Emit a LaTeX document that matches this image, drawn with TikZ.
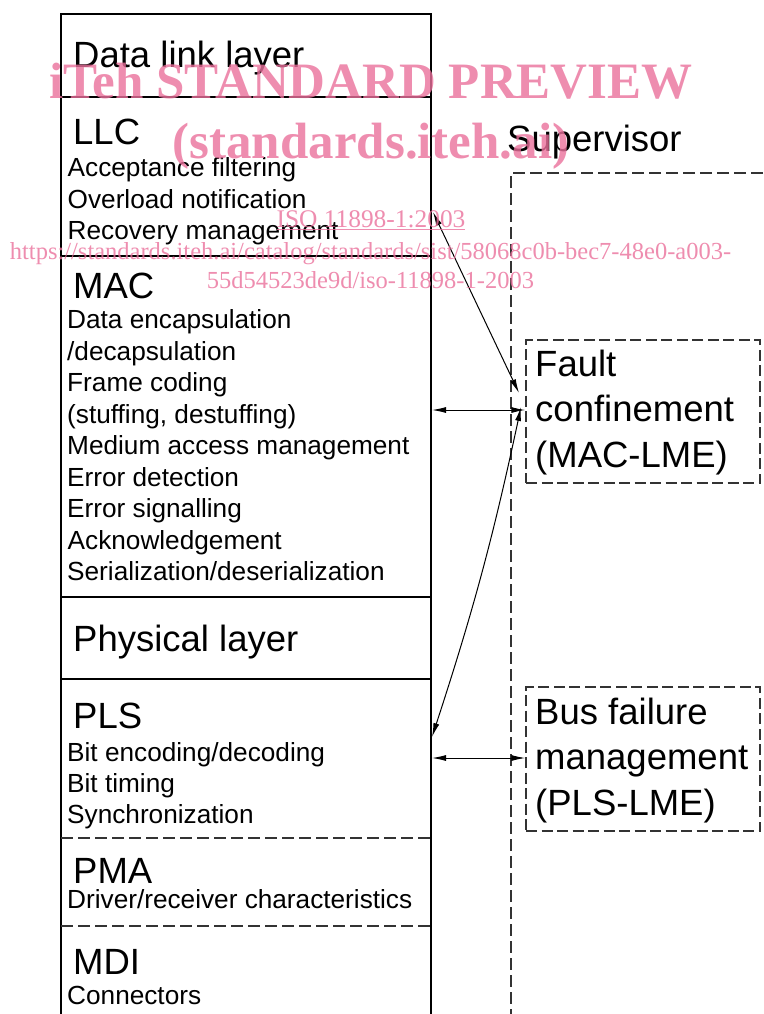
\documentclass[tikz,border=0pt]{standalone}
\usepackage{fontspec}
\setmainfont{Liberation Sans}
\newfontfamily\wmfont{Liberation Serif}
\usetikzlibrary{arrows.meta}
\definecolor{wmpink}{RGB}{234,112,155}
\begin{document}
\begin{tikzpicture}[x=1pt,y=-1pt,
  big/.style={anchor=base west,inner sep=0pt,font=\fontsize{36.5}{40}\selectfont},
  small/.style={anchor=base west,inner sep=0pt,font=\fontsize{26.2}{30}\selectfont},
  solidline/.style={line width=2pt},
  dashline/.style={line width=1.3pt,draw=black!80,dash pattern=on 12pt off 5pt},
  lmebox/.style={draw=black!80,line width=1.3pt,dash pattern=on 11pt off 4.5pt,minimum width=234pt,inner sep=0pt},
  conn/.style={line width=1pt,{Latex[length=14pt,width=6pt]}-{Latex[length=14pt,width=6pt]}},
  wm/.style={text=wmpink,text opacity=0.8,inner sep=0pt,anchor=base}
]
\useasboundingbox (0,0) rectangle (763,1014);
% main stack
\draw[solidline] (61,1014) -- (61,14) -- (431,14) -- (431,1014);
\draw[solidline] (61,97) -- (431,97);
\draw[line width=1.3pt] (61,256) -- (431,256);
\draw[solidline] (61,597) -- (431,597);
\draw[solidline] (61,679) -- (431,679);
\draw[dashline] (61,838) -- (431,838);
\draw[dashline] (61,926) -- (431,926);
% supervisor
\draw[dashline] (763,173) -- (511,173) -- (511,1014);
\node[big] (sup) at (507,151) {Supervisor};
% texts of stack
\node[big] (dll) at (73,68) {Data link layer};
\node[big] (llc) at (73,145) {LLC};
\node[small] (l1) at (67.5,176) {Acceptance filtering};
\node[small] (l2) at (67.5,208) {Overload notification};
\node[small] (l3) at (67.5,239) {Recovery management};
\node[big] (mac) at (73,298) {MAC};
\node[small] (m1) at (67,328) {Data encapsulation};
\node[small] (m2) at (67,360) {/decapsulation};
\node[small] (m3) at (67,391) {Frame coding};
\node[small] (m4) at (67,423) {(stuffing, destuffing)};
\node[small] (m5) at (67,454) {Medium access management};
\node[small] (m6) at (67,486) {Error detection};
\node[small] (m7) at (67,517) {Error signalling};
\node[small] (m8) at (67.5,549) {Acknowledgement};
\node[small] (m9) at (67,580) {Serialization/deserialization};
\node[big] (phy) at (73,651) {Physical layer};
\node[big] (pls) at (73,728) {PLS};
\node[small] (p1) at (67,761) {Bit encoding/decoding};
\node[small] (p2) at (67,792) {Bit timing};
\node[small] (p3) at (67,823) {Synchronization};
\node[big] (pma) at (73,883) {PMA};
\node[small] (a1) at (67,908) {Driver/receiver characteristics};
\node[big] (mdi) at (73,974) {MDI};
\node[small] (d1) at (67,1004) {Connectors};
% LME boxes
\node[lmebox,minimum height=143pt] (fault) at (643,411.5) {};
\node[big] (f1) at (535,376) {Fault};
\node[big] (f2) at (535,421) {confinement};
\node[big] (f3) at (535,467) {(MAC-LME)};
\node[lmebox,minimum height=144pt] (bus) at (643,759) {};
\node[big] (b1) at (535,724) {Bus failure};
\node[big] (b2) at (535,769) {management};
\node[big] (b3) at (535,815) {(PLS-LME)};
% connectors
\coordinate (llcR) at (433,212);
\coordinate (fcIn) at (519,393);
\coordinate (macR) at (432,410);
\coordinate (plsR) at (432,737);
\coordinate (fcOut) at (521,407);
\coordinate (plsR2) at (432,758);
\draw[conn] (llcR) -- (fcIn);
\draw[conn] (macR) -- (macR -| fault.west);
\draw[conn] (plsR) to[bend right=3] (fcOut);
\draw[conn] (plsR2) -- (plsR2 -| bus.west);
% watermark
\node[wm,font=\wmfont\bfseries\fontsize{51}{55}\selectfont] (w1) at (371,99) {iTeh STANDARD PREVIEW};
\node[wm,font=\wmfont\bfseries\fontsize{51}{55}\selectfont] (w2) at (371,158.5) {(standards.iteh.ai)};
\node[wm,font=\wmfont\fontsize{25.4}{28}\selectfont] (w3) at (371,227.5) {\underline{ISO 11898-1:2003}};
\node[wm,font=\wmfont\fontsize{24.5}{28}\selectfont] (w4) at (370.5,259) {https://standards.iteh.ai/catalog/standards/sist/58068c0b-bec7-48e0-a003-};
\node[wm,font=\wmfont\fontsize{24.5}{28}\selectfont] (w5) at (370.5,288.5) {55d54523de9d/iso-11898-1-2003};
\end{tikzpicture}
\end{document}
